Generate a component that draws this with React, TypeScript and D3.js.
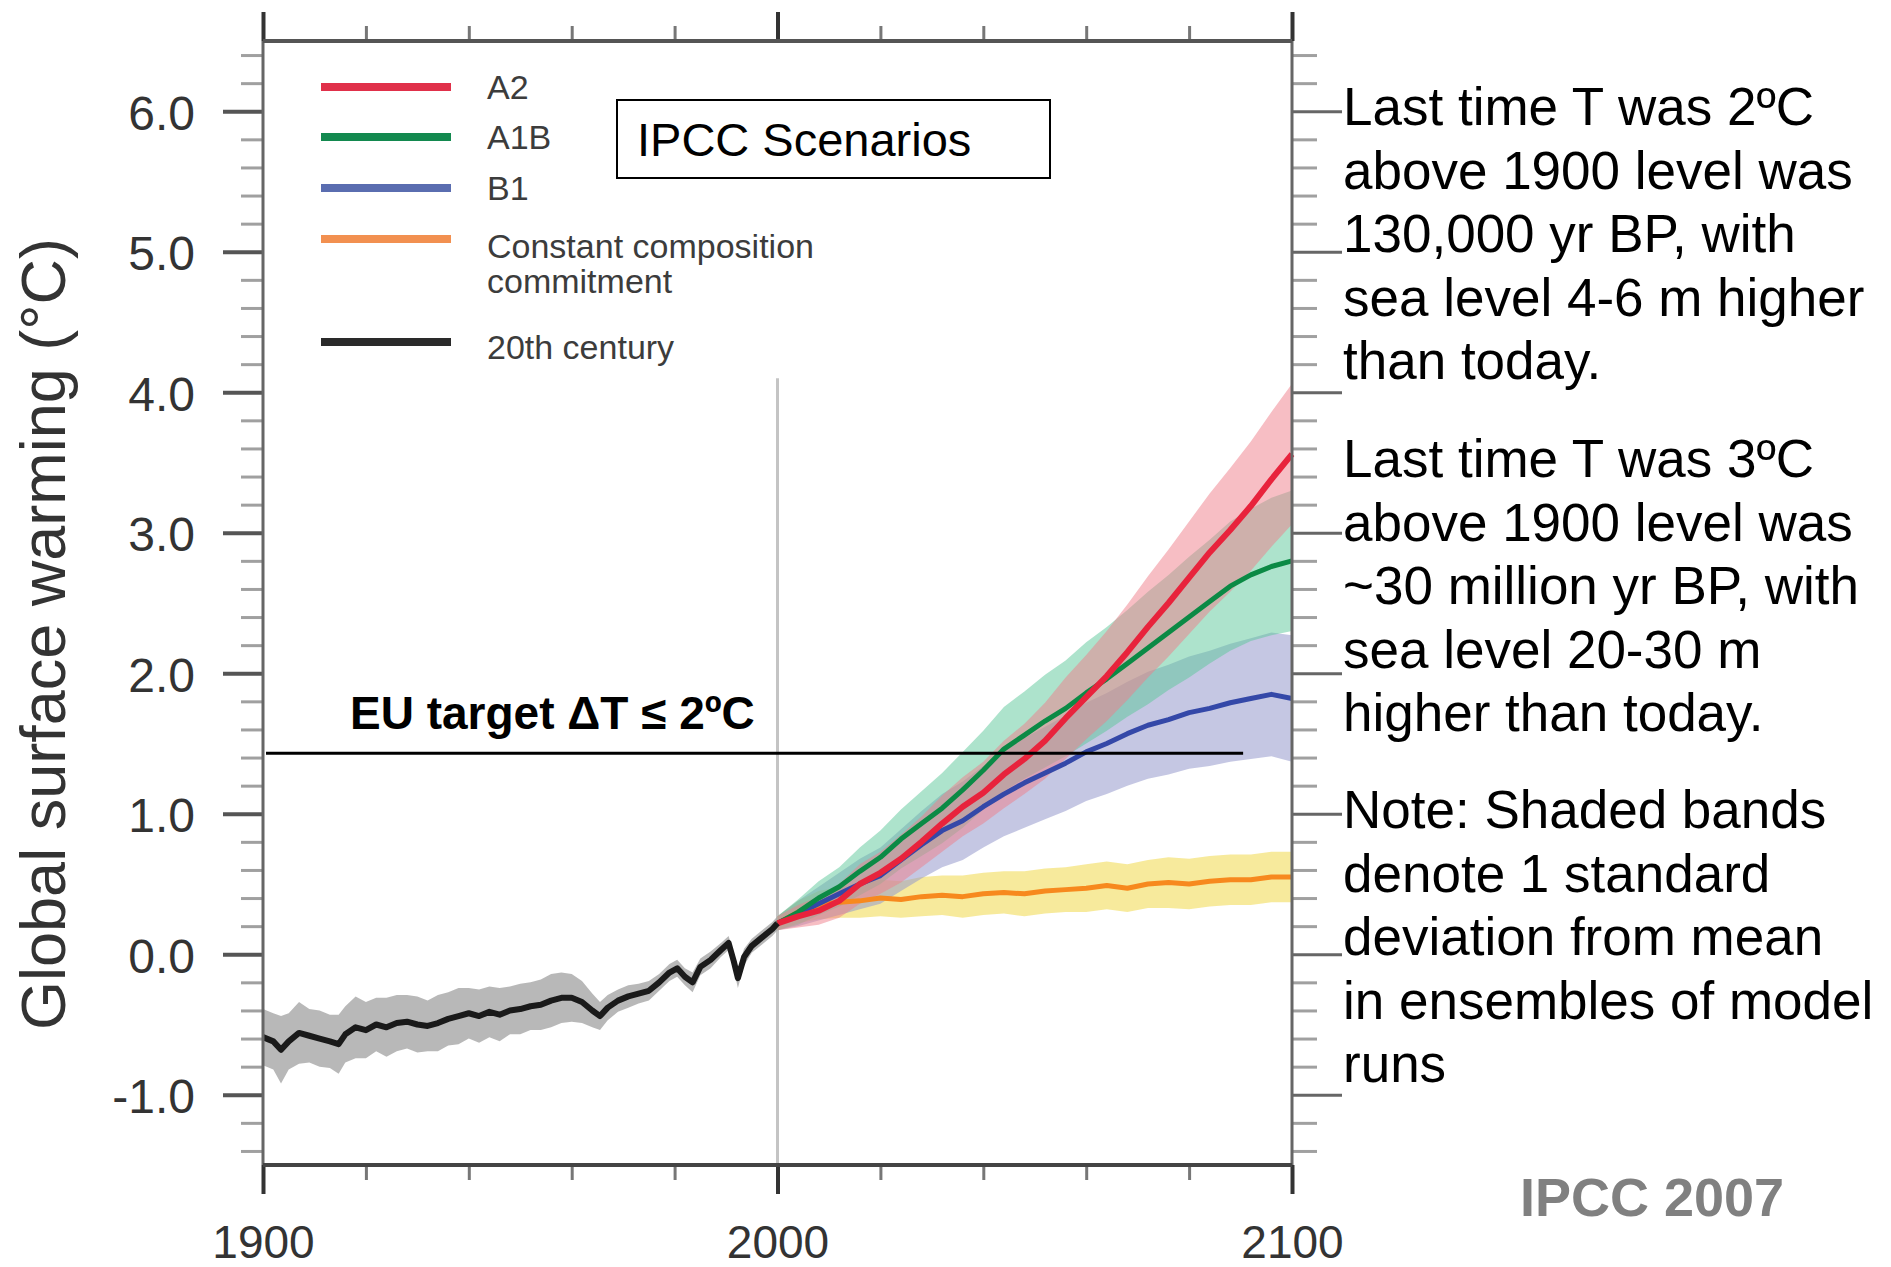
import React, {useEffect, useRef} from 'react';
import * as d3 from 'd3';

// 20th century ensemble mean and spread
const centuryYears = [1900, 1902, 1903.5, 1905, 1907, 1909, 1911, 1913, 1914.7, 1916, 1918, 1920, 1922, 1924, 1926, 1928, 1930,
    1932, 1934, 1936, 1938, 1940, 1942, 1944, 1946, 1948, 1950, 1952, 1954, 1956, 1958, 1960, 1962, 1964, 1965.5, 1967,
    1969, 1971, 1973, 1975, 1977, 1979, 1980.5, 1982, 1983.5, 1985, 1987, 1989, 1990.5, 1991.5, 1992.3, 1993.5, 1995,
    1997, 1999, 2000];
const centuryMean = [-0.59, -0.62, -0.68, -0.62, -0.56, -0.58, -0.60, -0.62, -0.64, -0.57, -0.52, -0.54, -0.50, -0.52, -0.49,
    -0.48, -0.50, -0.51, -0.49, -0.46, -0.44, -0.42, -0.44, -0.41, -0.43, -0.40, -0.39, -0.37, -0.36, -0.33, -0.31, -0.31,
    -0.34, -0.40, -0.44, -0.38, -0.33, -0.30, -0.28, -0.26, -0.20, -0.13, -0.10, -0.16, -0.20, -0.09, -0.04, 0.03, 0.08,
    -0.05, -0.17, -0.02, 0.06, 0.12, 0.18, 0.22];
const centurySd = [0.20, 0.20, 0.24, 0.20, 0.22, 0.19, 0.20, 0.19, 0.21, 0.20, 0.22, 0.20, 0.19, 0.21, 0.20, 0.19, 0.20,
    0.18, 0.20, 0.19, 0.20, 0.18, 0.19, 0.18, 0.19, 0.17, 0.18, 0.17, 0.18, 0.19, 0.18, 0.17, 0.15, 0.12, 0.10, 0.09,
    0.08, 0.08, 0.07, 0.07, 0.06, 0.06, 0.06, 0.06, 0.07, 0.06, 0.06, 0.05, 0.05, 0.06, 0.07, 0.06, 0.05, 0.05, 0.05, 0.05];

// scenario projections
const futureYears = [2000, 2004, 2008, 2012, 2016, 2020, 2024, 2028, 2032, 2036, 2040, 2044, 2048, 2052, 2056, 2060,
    2064, 2068, 2072, 2076, 2080, 2084, 2088, 2092, 2096, 2100];
const a2Mean = [0.22, 0.27, 0.31, 0.38, 0.50, 0.58, 0.68, 0.80, 0.93, 1.05, 1.15, 1.28, 1.39, 1.52, 1.68, 1.83, 1.98,
    2.15, 2.33, 2.50, 2.68, 2.86, 3.02, 3.19, 3.38, 3.56];
const a2Sd = [0.05, 0.08, 0.10, 0.12, 0.14, 0.15, 0.17, 0.18, 0.20, 0.21, 0.22, 0.24, 0.25, 0.27, 0.29, 0.30, 0.32,
    0.34, 0.36, 0.38, 0.40, 0.42, 0.44, 0.46, 0.48, 0.50];
const a1bMean = [0.22, 0.30, 0.40, 0.48, 0.59, 0.69, 0.82, 0.93, 1.04, 1.17, 1.31, 1.46, 1.56, 1.66, 1.75, 1.86, 1.96,
    2.07, 2.18, 2.29, 2.40, 2.51, 2.62, 2.70, 2.76, 2.80];
const a1bSd = [0.05, 0.09, 0.12, 0.14, 0.17, 0.19, 0.21, 0.23, 0.25, 0.27, 0.28, 0.30, 0.31, 0.33, 0.34, 0.36, 0.37,
    0.38, 0.40, 0.41, 0.43, 0.44, 0.46, 0.47, 0.49, 0.50];
const b1Mean = [0.22, 0.29, 0.36, 0.43, 0.50, 0.56, 0.67, 0.78, 0.88, 0.95, 1.05, 1.14, 1.22, 1.29, 1.36, 1.44, 1.50,
    1.57, 1.63, 1.67, 1.72, 1.75, 1.79, 1.82, 1.85, 1.82];
const b1Sd = [0.05, 0.09, 0.12, 0.15, 0.18, 0.20, 0.22, 0.24, 0.26, 0.28, 0.29, 0.30, 0.32, 0.33, 0.34, 0.35, 0.36,
    0.37, 0.38, 0.39, 0.40, 0.41, 0.42, 0.43, 0.44, 0.45];
const commitMean = [0.22, 0.30, 0.35, 0.37, 0.38, 0.40, 0.39, 0.41, 0.42, 0.41, 0.43, 0.44, 0.43, 0.45, 0.46, 0.47,
    0.49, 0.47, 0.50, 0.51, 0.50, 0.52, 0.53, 0.53, 0.55, 0.55];
const commitSd = [0.05, 0.08, 0.10, 0.11, 0.12, 0.13, 0.13, 0.14, 0.14, 0.15, 0.15, 0.15, 0.16, 0.16, 0.16, 0.17,
    0.17, 0.17, 0.17, 0.18, 0.18, 0.18, 0.18, 0.18, 0.18, 0.18];

const legendLabels = [['A2'], ['A1B'], ['B1'], ['Constant composition', 'commitment'], ['20th century']];
const yTickLabels = [-1, 0, 1, 2, 3, 4, 5, 6];
const xTickLabels = [1900, 2000, 2100];
const euTarget = 1.43;

const noteBlocks = [
    ['Last time T was 2ºC', 'above 1900 level was', '130,000 yr BP, with', 'sea level 4-6 m higher', 'than today.'],
    ['Last time T was 3ºC', 'above 1900 level was', '~30 million yr BP, with', 'sea level 20-30 m', 'higher than today.'],
    ['Note: Shaded bands', 'denote 1 standard', 'deviation from mean', 'in ensembles of model', 'runs']
];

const W = 1891, H = 1267;
const FONT = '"Liberation Sans", Arial, Helvetica, sans-serif';

const App: React.FC = () => {
    const svgRef = useRef<SVGSVGElement>(null);

    useEffect(() => {
        const svg = d3.select(svgRef.current);
        svg.selectAll('*').remove();

        const left = 263, right = 1292, top = 41, bottom = 1165;
        const x = d3.scaleLinear().domain([1900, 2100]).range([left, right]);
        const y = d3.scaleLinear().domain([-1.5, 6.5]).range([bottom, top]);

        svg.append('rect').attr('width', W).attr('height', H).attr('fill', '#fff');

        type Pt = { yr: number; m: number; s: number };
        const century: Pt[] = centuryYears.map((yr, i) => ({yr, m: centuryMean[i], s: centurySd[i]}));
        const mk = (mean: number[], sd: number[]): Pt[] => futureYears.map((yr, i) => ({yr, m: mean[i], s: sd[i]}));
        const a2 = mk(a2Mean, a2Sd), a1b = mk(a1bMean, a1bSd), b1 = mk(b1Mean, b1Sd), commit = mk(commitMean, commitSd);

        const band = d3.area<Pt>().x(d => x(d.yr)).y0(d => y(d.m - d.s)).y1(d => y(d.m + d.s));
        const line = d3.line<Pt>().x(d => x(d.yr)).y(d => y(d.m));

        // 2000 divider
        svg.append('line')
            .attr('x1', x(2000)).attr('x2', x(2000))
            .attr('y1', y(4.1)).attr('y2', bottom)
            .attr('stroke', '#c4c4c4').attr('stroke-width', 3);

        // shaded bands
        const bands: [Pt[], string, number][] = [
            [century, '#a6a6a6', 0.8],
            [commit, '#f2dc5a', 0.6],
            [b1, '#9599cc', 0.55],
            [a1b, '#5cc79a', 0.5],
            [a2, '#ef7d8a', 0.5]
        ];
        bands.forEach(([data, color, op]) => {
            svg.append('path').datum(data)
                .attr('d', band).attr('fill', color).attr('fill-opacity', op);
        });

        // mean lines
        const lines: [Pt[], string, number][] = [
            [commit, '#f7891e', 5],
            [b1, '#3448a8', 5],
            [a1b, '#0b8a45', 5],
            [a2, '#e8233c', 6],
            [century, '#1a1a1a', 6]
        ];
        lines.forEach(([data, color, w]) => {
            svg.append('path').datum(data)
                .attr('d', line).attr('fill', 'none')
                .attr('stroke', color).attr('stroke-width', w)
                .attr('stroke-linejoin', 'round');
        });

        // EU target
        svg.append('line')
            .attr('x1', left + 3).attr('x2', x(2090.5))
            .attr('y1', y(euTarget)).attr('y2', y(euTarget))
            .attr('stroke', '#000').attr('stroke-width', 3);
        svg.append('text')
            .attr('x', 350).attr('y', y(euTarget) - 24)
            .attr('font-family', FONT).attr('font-size', 46).attr('font-weight', 'bold')
            .text('EU target ΔT ≤ 2ºC');

        // axes
        const minorY = d3.range(-14, 65, 2).map(v => v / 10).filter(v => Math.abs(v - Math.round(v)) > 0.01);
        const minorX = d3.range(1920, 2100, 20).filter(v => v !== 2000);

        const styleAxis = (g: any, color: string, width: number) => {
            g.select('.domain').remove();
            g.selectAll('.tick line').attr('stroke', color).attr('stroke-width', width);
        };

        const leftMinor = svg.append('g').attr('transform', `translate(${left},0)`)
            .call(d3.axisLeft(y).tickValues(minorY).tickSize(22).tickFormat(() => ''));
        styleAxis(leftMinor, '#a0a0a0', 3);
        const leftMajor = svg.append('g').attr('transform', `translate(${left},0)`)
            .call(d3.axisLeft(y).tickValues(yTickLabels).tickSize(40).tickPadding(28)
                .tickFormat(d => (d as number).toFixed(1)));
        styleAxis(leftMajor, '#555', 4);
        leftMajor.selectAll('text')
            .attr('font-family', FONT).attr('font-size', 48).attr('fill', '#333').attr('dy', '0.37em');

        const rightMinor = svg.append('g').attr('transform', `translate(${right},0)`)
            .call(d3.axisRight(y).tickValues(minorY).tickSize(25).tickFormat(() => ''));
        styleAxis(rightMinor, '#a0a0a0', 3);
        const rightMajor = svg.append('g').attr('transform', `translate(${right},0)`)
            .call(d3.axisRight(y).tickValues(yTickLabels).tickSize(50).tickFormat(() => ''));
        styleAxis(rightMajor, '#666', 3);

        const topMinor = svg.append('g').attr('transform', `translate(0,${top})`)
            .call(d3.axisTop(x).tickValues(minorX).tickSize(15).tickFormat(() => ''));
        styleAxis(topMinor, '#777', 3);
        const topMajor = svg.append('g').attr('transform', `translate(0,${top})`)
            .call(d3.axisTop(x).tickValues(xTickLabels).tickSize(29).tickFormat(() => ''));
        styleAxis(topMajor, '#333', 4);

        const botMinor = svg.append('g').attr('transform', `translate(0,${bottom})`)
            .call(d3.axisBottom(x).tickValues(minorX).tickSize(15).tickFormat(() => ''));
        styleAxis(botMinor, '#777', 3);
        const botMajor = svg.append('g').attr('transform', `translate(0,${bottom})`)
            .call(d3.axisBottom(x).tickValues(xTickLabels).tickSize(29).tickPadding(31)
                .tickFormat(d => String(d)));
        styleAxis(botMajor, '#333', 4);
        botMajor.selectAll('text')
            .attr('font-family', FONT).attr('font-size', 46).attr('fill', '#333');

        // frame
        svg.append('line').attr('x1', left).attr('x2', left).attr('y1', top).attr('y2', bottom)
            .attr('stroke', '#666').attr('stroke-width', 3);
        svg.append('line').attr('x1', right).attr('x2', right).attr('y1', top).attr('y2', bottom)
            .attr('stroke', '#666').attr('stroke-width', 3);
        svg.append('line').attr('x1', left).attr('x2', right).attr('y1', top).attr('y2', top)
            .attr('stroke', '#555').attr('stroke-width', 4);
        svg.append('line').attr('x1', left).attr('x2', right).attr('y1', bottom).attr('y2', bottom)
            .attr('stroke', '#444').attr('stroke-width', 4);

        // y axis title
        svg.append('text')
            .attr('transform', `translate(65,${634}) rotate(-90)`)
            .attr('text-anchor', 'middle')
            .attr('font-family', FONT).attr('font-size', 63).attr('fill', '#333')
            .text('Global surface warming (°C)');

        // legend
        const legendColors = ['#e0304a', '#13894f', '#5a6db0', '#f29050', '#2a2a2a'];
        const legendY = [87, 137, 188, 239, 342];
        legendLabels.forEach((lbl, i) => {
            svg.append('line')
                .attr('x1', 321).attr('x2', 451)
                .attr('y1', legendY[i]).attr('y2', legendY[i])
                .attr('stroke', legendColors[i]).attr('stroke-width', 8);
            lbl.forEach((t, j) => {
                svg.append('text')
                    .attr('x', 487).attr('y', legendY[i] + 12 + (i === 3 ? 7 : 0) + (i === 4 ? 5 : 0) + j * 35)
                    .attr('font-family', FONT).attr('font-size', 34).attr('fill', '#3c3c3c')
                    .text(t);
            });
        });

        // scenarios box
        svg.append('rect')
            .attr('x', 617).attr('y', 100).attr('width', 433).attr('height', 78)
            .attr('fill', '#fff').attr('stroke', '#000').attr('stroke-width', 2);
        svg.append('text')
            .attr('x', 637).attr('y', 156)
            .attr('font-family', FONT).attr('font-size', 47)
            .text('IPCC Scenarios');

        // notes on the right
        const blockStart = [125, 477, 828];
        noteBlocks.forEach((blk, b) => {
            blk.forEach((t, i) => {
                svg.append('text')
                    .attr('x', 1343).attr('y', blockStart[b] + i * 63.5)
                    .attr('font-family', FONT).attr('font-size', 53).attr('fill', '#000')
                    .text(t);
            });
        });

        svg.append('text')
            .attr('x', 1520).attr('y', 1216)
            .attr('font-family', FONT).attr('font-size', 54).attr('font-weight', 'bold')
            .attr('fill', '#808080')
            .text('IPCC 2007');
    }, []);

    return (
        <svg ref={svgRef} width={W} height={H}
             style={{position: 'absolute', left: 0, top: 0, display: 'block'}}/>
    );
};

export default App;
